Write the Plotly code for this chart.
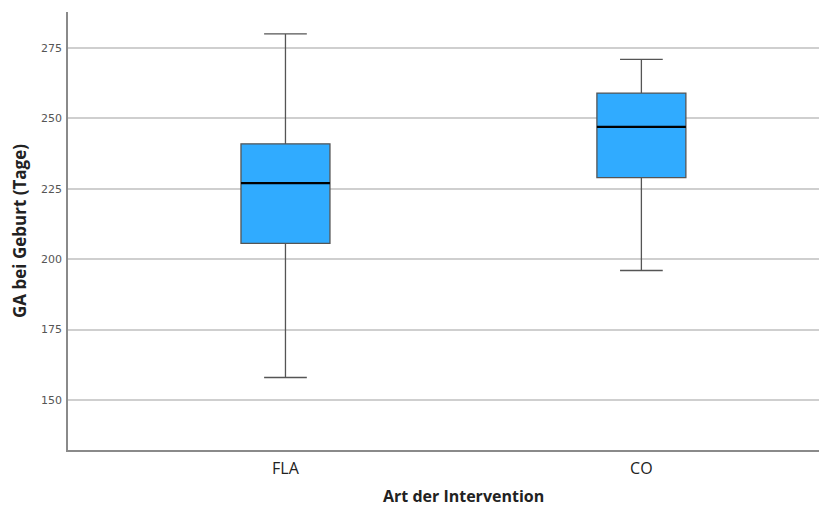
import plotly.graph_objects as go

categories = ["FLA", "CO"]
q1 = [205.6, 229.0]
median = [227.0, 247.0]
q3 = [241.0, 259.0]
lower = [158.0, 196.0]
upper = [280.0, 271.0]
y_ticks = [150, 175, 200, 225, 250, 275]

fig = go.Figure()
pos = list(range(len(categories)))
half = 0.125
for i, cat in enumerate(categories):
    fig.add_trace(go.Box(
        x=[pos[i]], q1=[q1[i]], median=[median[i]], q3=[q3[i]],
        lowerfence=[lower[i]], upperfence=[upper[i]],
        width=2 * half, whiskerwidth=0.48,
        fillcolor="#30ABFF", line=dict(color="#555555", width=1.3),
        boxpoints=False, name=cat, showlegend=False, hoverinfo="skip",
    ))
    fig.add_trace(go.Scatter(
        x=[pos[i] - half, pos[i] + half], y=[median[i], median[i]],
        mode="lines", line=dict(color="#000000", width=2.2),
        showlegend=False, hoverinfo="skip",
    ))

fig.update_layout(
    width=819, height=506,
    margin=dict(l=68, r=0, t=12, b=56, pad=0, autoexpand=False),
    paper_bgcolor="white", plot_bgcolor="white",
    font=dict(family="DejaVu Sans", color="#333333"),
    xaxis=dict(
        range=[-0.611, 1.499], tickvals=pos, ticktext=categories, automargin=False,
        showgrid=False, zeroline=False, showline=True, linecolor="#8a8a8a", linewidth=1.5,
        ticks="outside", ticklen=3, tickcolor="rgba(0,0,0,0)",
        tickfont=dict(size=16, color="#222222", family="Open Sans"),
    ),
    yaxis=dict(
        range=[132.26, 287.8], tickvals=y_ticks, automargin=False,
        showgrid=True, gridcolor="#cfcfcf", gridwidth=1.5, zeroline=False,
        showline=True, linecolor="#8a8a8a", linewidth=1.5,
        ticks="outside", ticklen=2, tickcolor="rgba(0,0,0,0)",
        tickfont=dict(size=11, color="#555555", family="DejaVu Sans"),
        title=dict(text="<b>GA bei Geburt (Tage)</b>", font=dict(size=17, color="#222222", family="Open Sans"), standoff=10),
    ),
    annotations=[dict(
        text="<b>Art der Intervention</b>", xref="paper", yref="paper",
        x=0.526, y=0, yshift=-46, xanchor="center", yanchor="middle", showarrow=False,
        font=dict(size=16, color="#222222", family="Open Sans"),
    )],
)

fig.write_html(
    "out.html",
    config={"displayModeBar": False},
    post_script="document.body.style.margin='0';document.body.style.overflow='hidden';",
)
